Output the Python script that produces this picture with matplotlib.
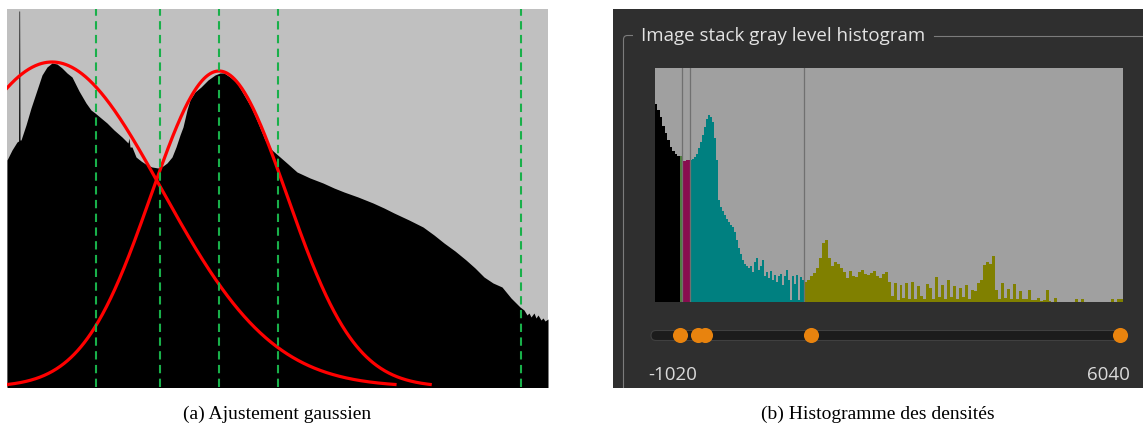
import numpy as np
import matplotlib
matplotlib.use("Agg")
import matplotlib.pyplot as plt
from matplotlib.patches import Rectangle, FancyBboxPatch, PathPatch
from matplotlib.path import Path

# ---------------- data ----------------
# (a) gray-level histogram (bin index, count) and the two fitted Gaussians
hist_a_x = [0, 5, 10, 11.6, 12.0, 12.6, 13.0, 14, 19, 24, 29, 35, 40, 45, 50, 55, 60, 65, 72,
            79, 84, 88, 94, 100, 107, 115, 119, 121, 122, 123, 125, 129, 134, 140, 145,
            151, 156, 160, 165, 169, 173, 176, 180, 183, 188, 194, 201, 208, 213, 217,
            223, 230, 237, 244, 251, 258, 265, 273, 281, 290, 303, 316, 327, 337, 351,
            366, 377, 387, 402, 416, 427, 437, 448, 459, 468, 477, 486, 495, 504, 509,
            513, 517, 520, 522, 524, 527, 529, 531, 534, 536, 538, 541]
hist_a_counts = [227, 237, 245, 246, 376, 376, 247, 247, 262, 279, 294, 312, 320, 324, 323,
                 319, 314, 310, 296, 284, 277, 274, 269, 264, 257, 250, 246, 244, 249, 240,
                 240, 230, 226, 222, 220, 219, 221, 224, 230, 240, 252, 260, 277, 287, 295,
                 300, 307, 312, 314, 314, 310, 304, 292, 280, 264, 247, 237, 230, 223, 215,
                 209, 204, 199, 195, 190, 184, 179, 174, 167, 160, 152, 144, 136, 127, 119,
                 110, 104, 100, 89, 84, 80, 77, 72, 74, 70, 74, 69, 72, 67, 69, 66, 68]
gauss_mu = [45, 212]
gauss_sigma = [110, 68]
gauss_amp = [325, 316]
threshold_lines = [89, 153, 212, 271, 514]

# (b) density histogram split in classes
class_edges = [-1020, -643, -620, -492, 1230, 6040]
class_colors = ["#000000", "#4f7f3f", "#880e4f", "#008080", "#808000"]
counts_air = [198, 192, 185, 176, 169, 162, 155, 151, 148, 146]
counts_edge = [146]
counts_soft = [141, 142]
counts_tissue = [142, 143, 145, 148, 154, 160, 167, 175, 183, 187, 185, 180, 164, 142, 102,
                 95, 91, 87, 83, 80, 77, 75, 70, 62, 54, 48, 42, 38, 36, 34, 36, 30, 40, 44,
                 32, 36, 42, 26, 30, 24, 31, 22, 27, 20, 26, 28, 17, 26, 32, 22, 2, 26, 18,
                 27, 2, 25, 22]
counts_dense = [20, 22, 26, 29, 34, 44, 59, 62, 44, 36, 40, 38, 34, 30, 24, 31, 26, 25, 30,
                32, 28, 27, 29, 31, 26, 24, 28, 30, 20, 6, 19, 2, 17, 4, 19, 3, 20, 3, 16, 6,
                3, 18, 14, 3, 25, 5, 17, 3, 22, 5, 16, 3, 14, 5, 17, 3, 12, 11, 19, 22, 37,
                40, 38, 46, 12, 3, 19, 4, 13, 3, 18, 3, 11, 3, 3, 12, 2, 2, 4, 1, 2, 12, 1, 0,
                4, 0, 0, 0, 0, 0, 0, 3, 0, 3, 0, 0, 0, 0, 0, 0, 0, 0, 0, 3, 0, 3, 3]
separator_lines = [-608, -490, 1230]
slider_range = [-1020, 6040]
slider_handles = [-685, -410, -300, 1320, 6040]

title_b = "Image stack gray level histogram"
caption_a = "(a) Ajustement gaussien"
caption_b = "(b) Histogramme des densités"

# ---------------- figure ----------------
W, H = 1143, 428
fig = plt.figure(figsize=(W / 100, H / 100), dpi=100)
fig.patch.set_facecolor("white")


def px_axes(x0, y0, x1, y1):
    return fig.add_axes([x0 / W, 1 - y1 / H, (x1 - x0) / W, (y1 - y0) / H])


def bare(ax):
    ax.set_xticks([])
    ax.set_yticks([])
    for s in ax.spines.values():
        s.set_visible(False)


# overlay in pixel coordinates for the widget decorations
ov = fig.add_axes([0, 0, 1, 1])
ov.set_xlim(0, W)
ov.set_ylim(H, 0)
ov.axis("off")
ov.set_zorder(0)
ov.add_patch(Rectangle((613, 9), W - 613, 379, facecolor="#2f2f2f", edgecolor="none"))

frame = Path([(623.5, 388), (623.5, 39.5), (623.5, 35.5), (627.5, 35.5), (633, 35.5)],
             [Path.MOVETO, Path.LINETO, Path.CURVE3, Path.CURVE3, Path.LINETO])
ov.add_patch(PathPatch(frame, facecolor="none", edgecolor="#7c7c7c", lw=0.8))
t = ov.text(641, 41, title_b, fontsize=13.5, family="Open Sans", color="#e2e2e2",
            ha="left", va="baseline")
fig.canvas.draw()
tb = t.get_window_extent(fig.canvas.get_renderer())
ov.plot([tb.x1 + 9, W], [35.5, 35.5], color="#7c7c7c", lw=0.8)

ov.add_patch(FancyBboxPatch((651, 330.5), 476, 10,
                            boxstyle="round,pad=0,rounding_size=5",
                            facecolor="#1c1c1c", edgecolor="#404040", lw=0.8))
ov.text(648, 380, f"{slider_range[0]}", fontsize=13.5, family="Open Sans",
        color="#dadada", ha="left", va="baseline")
ov.text(1130, 380, f"{slider_range[1]}", fontsize=13.5, family="Open Sans",
        color="#dadada", ha="right", va="baseline")

# ---- (a) Gaussian fit ----
axa = px_axes(7, 9, 548, 387)
axa.set_zorder(1)
axa.set_facecolor("#c0c0c0")
axa.fill_between(hist_a_x, hist_a_counts, -10, color="black", lw=0)
xs = np.linspace(0, 541, 800)
for mu, sg, amp in zip(gauss_mu, gauss_sigma, gauss_amp):
    g = amp * np.exp(-(xs - mu) ** 2 / (2 * sg ** 2))
    g = np.where(g < 2.5, np.nan, g)  # the flat tails sit below the panel edge
    axa.plot(xs, g, color="#ff0000", lw=2.3)
for xv in threshold_lines:
    axa.axvline(xv, color="#19b04a", lw=1.5, ls=(0, (4, 2.6)))
axa.set_xlim(0, 541)
axa.set_ylim(0, 378)
bare(axa)

# ---- (b) density histogram ----
axb = px_axes(655, 68, 1123, 302)
axb.set_zorder(1)
axb.set_facecolor("#a0a0a0")
groups = [counts_air, counts_edge, counts_soft, counts_tissue, counts_dense]
for i, (vals, col) in enumerate(zip(groups, class_colors)):
    edges = np.linspace(class_edges[i], class_edges[i + 1], len(vals) + 1)
    axb.stairs(vals, edges, fill=True, color=col, lw=0)
for xv in separator_lines:
    axb.axvline(xv, color="#707070", lw=0.9)
axb.set_xlim(-1020, 6040)
axb.set_ylim(0, 234)
bare(axb)

# slider handles
axs = px_axes(658, 325, 1120, 345)
axs.set_zorder(2)
axs.patch.set_alpha(0)
axs.set_xlim(*slider_range)
axs.set_ylim(0, 1)
axs.axis("off")
axs.scatter(slider_handles, [0.5] * len(slider_handles), s=118, color="#e8830e",
            linewidths=0, clip_on=False, zorder=3)

# captions
fig.text(277.5 / W, 1 - 414.5 / H, caption_a, ha="center", va="center",
         family="Liberation Serif", fontsize=14)
fig.text(878 / W, 1 - 414.5 / H, caption_b, ha="center", va="center",
         family="Liberation Serif", fontsize=14)

fig.savefig("out.png", dpi=100)
